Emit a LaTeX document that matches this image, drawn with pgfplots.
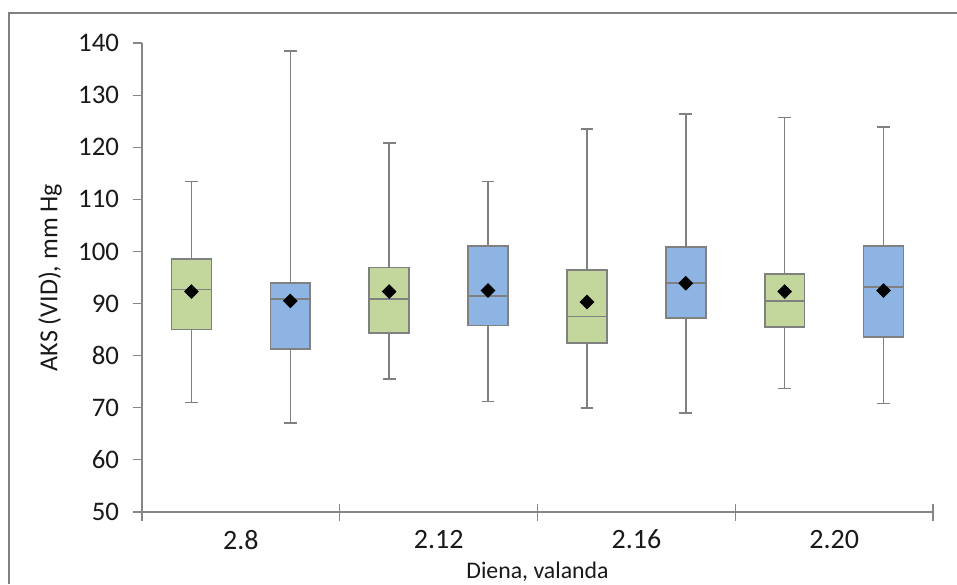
\documentclass[border=0pt]{standalone}
\usepackage{fontspec}
\setmainfont{Carlito}
\usepackage{pgfplots}
\pgfplotsset{compat=1.18}
\usepgfplotslibrary{statistics}
\definecolor{boxgreen}{RGB}{195,214,155}
\definecolor{boxblue}{RGB}{141,180,226}
\definecolor{boxedge}{RGB}{128,128,128}
\definecolor{axisgray}{RGB}{134,134,134}
\definecolor{framegray}{RGB}{128,128,128}
\begin{document}
\begin{tikzpicture}
\path[use as bounding box] (0pt,0pt) rectangle (478.5pt,292pt);
\draw[framegray, line width=1pt] (4.5pt,0pt) -- (4.5pt,285.5pt) -- (478.5pt,285.5pt);
\begin{axis}[
  at={(71pt,36pt)}, anchor=south west,
  scale only axis, width=395.5pt, height=234.5pt,
  xmin=-0.5, xmax=7.5, ymin=50, ymax=140,
  axis line style={draw=none},
  xtick pos=left, ytick pos=left,
  xtick align=center, ytick align=outside,
  every tick/.style={axisgray, line width=0.6pt},
  major tick length=0pt,
  ytick=\empty,
  extra y ticks={50,60,70,80,90,100,110,120,130,140},
  extra y tick style={major tick length=4.5pt, ytick align=outside},
  xtick={0.5,2.5,4.5,6.5},
  xticklabels={2.8,2.12,2.16,2.20},
  extra x ticks={-0.5,1.5,3.5,5.5,7.5},
  extra x tick labels={},
  extra x tick style={major tick length=8.5pt, xtick align=center},
  /pgf/number format/assume math mode=true,
  ticklabel style={font=\fontsize{13.4}{16}\selectfont, text=black!90},
  yticklabel style={xshift=-3.5pt},
  xticklabel style={yshift=-5.5pt, font=\fontsize{14}{16}\selectfont},
  xlabel={Diena, valanda},
  ylabel={AKS (VID), mm Hg},
  every axis x label/.style={at={(axis description cs:0.5,-0.128)}, anchor=center, font=\fontsize{11.9}{14}\selectfont, text=black!90},
  every axis y label/.style={at={(axis description cs:-0.1163,0.5)}, rotate=90, anchor=center, font=\fontsize{13}{15}\selectfont, text=black!90},
  extra description/.code={
    \draw[axisgray, line width=0.6pt] (0,1) -- (0,0) -- (1,0);
  },
  boxplot/draw direction=y,
  boxplot/box extend=0.404,
  boxplot/whisker extend=0.128,
]
\addplot[draw=boxedge, fill=boxgreen, line width=0.8pt, boxplot prepared={draw position=0, lower whisker=71.0, lower quartile=85.0, median=92.7, upper quartile=98.6, upper whisker=113.4}] coordinates {};
\addplot[draw=boxedge, fill=boxblue, line width=0.8pt, boxplot prepared={draw position=1, lower whisker=67.1, lower quartile=81.3, median=90.9, upper quartile=93.9, upper whisker=138.5}] coordinates {};
\addplot[draw=boxedge, fill=boxgreen, line width=0.8pt, boxplot prepared={draw position=2, lower whisker=75.5, lower quartile=84.3, median=90.9, upper quartile=96.9, upper whisker=120.8}] coordinates {};
\addplot[draw=boxedge, fill=boxblue, line width=0.8pt, boxplot prepared={draw position=3, lower whisker=71.2, lower quartile=85.8, median=91.5, upper quartile=101.0, upper whisker=113.4}] coordinates {};
\addplot[draw=boxedge, fill=boxgreen, line width=0.8pt, boxplot prepared={draw position=4, lower whisker=70.0, lower quartile=82.4, median=87.5, upper quartile=96.4, upper whisker=123.5}] coordinates {};
\addplot[draw=boxedge, fill=boxblue, line width=0.8pt, boxplot prepared={draw position=5, lower whisker=69.0, lower quartile=87.2, median=93.9, upper quartile=100.9, upper whisker=126.4}] coordinates {};
\addplot[draw=boxedge, fill=boxgreen, line width=0.8pt, boxplot prepared={draw position=6, lower whisker=73.7, lower quartile=85.5, median=90.5, upper quartile=95.7, upper whisker=125.7}] coordinates {};
\addplot[draw=boxedge, fill=boxblue, line width=0.8pt, boxplot prepared={draw position=7, lower whisker=70.8, lower quartile=83.6, median=93.2, upper quartile=101.1, upper whisker=123.9}] coordinates {};
% means
\addplot[only marks, mark=square*, mark size=2.4pt, mark options={draw=black, fill=black, rotate=45}]
  coordinates {(0,92.3) (1,90.5) (2,92.3) (3,92.5) (4,90.3) (5,93.9) (6,92.3) (7,92.5)};
\end{axis}
\end{tikzpicture}
\end{document}
